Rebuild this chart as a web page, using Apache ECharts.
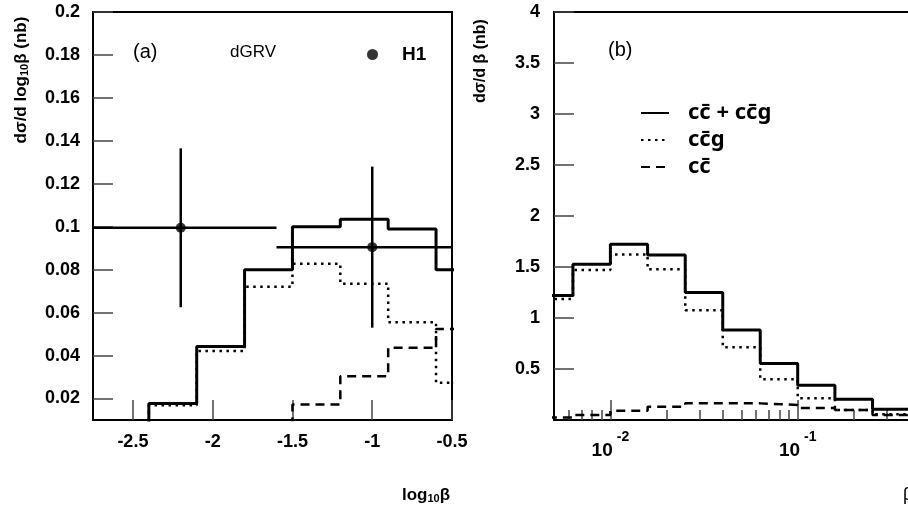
<!DOCTYPE html>
<html><head><meta charset="utf-8">
<script src="https://cdn.jsdelivr.net/npm/echarts@6/dist/echarts.min.js"></script>
<style>html,body{margin:0;padding:0;background:#fff}#c{width:908px;height:514px}</style>
</head><body><div id="c"></div>
<script>
// ---------- Panel (a): d sigma / d log10 beta ----------
const edgesA = [-2.4, -2.1, -1.8, -1.5, -1.2, -0.9, -0.6, -0.3];
const totalA = [0.0177, 0.0442, 0.080, 0.100, 0.1035, 0.099, 0.080];
const ccgA   = [0.0169, 0.0421, 0.072, 0.0828, 0.0735, 0.0555, 0.0273];
const ccA    = [null, null, null, 0.0172, 0.0304, 0.0437, 0.0524];
const h1X    = [-2.2, -1.0];
const h1Y    = [0.0995, 0.0905];
const h1XErr = [0.6, 0.6];
const h1YErr = [0.037, 0.0375];
const yTicksA = [0.02, 0.04, 0.06, 0.08, 0.1, 0.12, 0.14, 0.16, 0.18, 0.2];
const xTicksA = [-2.5, -2, -1.5, -1, -0.5];

// ---------- Panel (b): d sigma / d beta ----------
const edgesB = [0.00398, 0.00631, 0.01, 0.0158, 0.0251, 0.0398, 0.0631, 0.1, 0.158, 0.251, 0.398, 0.631, 1.0];
const totalB = [1.22, 1.526, 1.722, 1.618, 1.25, 0.882, 0.555, 0.34, 0.203, 0.105, 0.06, 0.03];
const ccgB   = [1.186, 1.47, 1.622, 1.477, 1.075, 0.713, 0.399, 0.213, 0.098, 0.056, 0.03, 0.015];
const ccB    = [0.025, 0.05, 0.09, 0.13, 0.163, 0.163, 0.147, 0.118, 0.098, 0.049, 0.03, 0.015];
const xMajorB = [0.01, 0.1];
const xMinorB = [0.006, 0.007, 0.008, 0.009, 0.02, 0.03, 0.04, 0.05, 0.06, 0.07, 0.08, 0.09,
                 0.2, 0.3, 0.4, 0.5, 0.6, 0.7, 0.8, 0.9];

const NAME_TOT = 'c\u0063\u0304 + c\u0063\u0304g';
const NAME_CCG = 'c\u0063\u0304g';
const NAME_CC  = 'c\u0063\u0304';

function steps(edges, vals) {
  const i0 = vals.findIndex(v => v != null);
  const pts = [[edges[i0], 0]];
  for (let i = i0; i < vals.length; i++) pts.push([edges[i], vals[i]]);
  pts.push([edges[vals.length], vals[vals.length - 1]]);
  return pts;
}

const FONT = 'Liberation Sans, Arial, Helvetica, sans-serif';
const lab = {fontFamily: FONT, fontWeight: 'bold', fontSize: 18, color: '#000'};
const tickStyle = {color: '#444', width: 1.5};
const solid = {color: '#000', width: 3, type: 'solid'};
const dotted = {color: '#000', width: 2.5, type: [2.5, 4.5], cap: 'butt'};
const dashed = {color: '#000', width: 2.5, type: [9, 6], cap: 'butt'};

function lineSeries(name, data, style, xi, yi) {
  return {name, type: 'line', step: 'end', data, symbol: 'none', showSymbol: false, xAxisIndex: xi, yAxisIndex: yi,
          lineStyle: style, itemStyle: {color: '#000'}, animation: false, clip: true};
}

const errData = h1X.map((x, i) => [x, h1Y[i], h1XErr[i], h1YErr[i]]);

const option = {
  animation: false,
  backgroundColor: '#fff',
  grid: [
    {left: 93, top: 12, width: 359, height: 408, show: true, borderColor: '#000', borderWidth: 2,
     containLabel: false, outerBoundsMode: 'none'},
    {left: 554, top: 12, width: 431, height: 408, show: true, borderColor: '#000', borderWidth: 2,
     containLabel: false, outerBoundsMode: 'none'}
  ],
  xAxis: [
    {type: 'value', gridIndex: 0, min: -2.75, max: -0.5,
     axisLine: {show: true, lineStyle: {color: '#000', width: 2}},
     axisTick: {show: true, inside: true, length: 20, lineStyle: tickStyle, customValues: xTicksA},
     axisLabel: Object.assign({margin: 13, customValues: xTicksA}, lab),
     splitLine: {show: false}},
    {type: 'log', gridIndex: 1, min: 0.005, max: 1, position: 'bottom',
     axisLine: {show: true, lineStyle: {color: '#000', width: 2}},
     axisTick: {show: true, inside: true, length: 20, lineStyle: tickStyle, customValues: xMajorB},
     axisLabel: {customValues: xMajorB, margin: 10,
       formatter: v => '{b|10}{s|' + Math.round(Math.log10(v)) + '}',
       rich: {
         b: {fontFamily: FONT, fontWeight: 'bold', fontSize: 19, color: '#000', lineHeight: 30, verticalAlign: 'bottom'},
         s: {fontFamily: FONT, fontWeight: 'bold', fontSize: 14, color: '#000', lineHeight: 30, verticalAlign: 'top', padding: [0, 0, 0, 4]}
       }},
     splitLine: {show: false}},
    {type: 'log', gridIndex: 1, min: 0.005, max: 1, position: 'bottom',
     axisLine: {show: false},
     axisTick: {show: true, inside: true, length: 10, lineStyle: tickStyle, customValues: xMinorB},
     axisLabel: {show: false},
     splitLine: {show: false}}
  ],
  yAxis: [
    {type: 'value', gridIndex: 0, min: 0.01, max: 0.2,
     axisLine: {show: true, lineStyle: {color: '#000', width: 2}},
     axisTick: {show: true, inside: true, length: 20, lineStyle: tickStyle, customValues: yTicksA},
     axisLabel: Object.assign({margin: 13, customValues: yTicksA}, lab),
     splitLine: {show: false}},
    {type: 'value', gridIndex: 1, min: 0, max: 4, interval: 0.5,
     axisLine: {show: true, lineStyle: {color: '#000', width: 2}},
     axisTick: {show: true, inside: true, length: 20, lineStyle: tickStyle},
     axisLabel: Object.assign({margin: 14, showMinLabel: false}, lab),
     splitLine: {show: false}}
  ],
  legend: [
    {data: ['H1'], left: 367, top: 45, padding: 0, icon: 'circle', itemWidth: 11, itemHeight: 11,
     selectedMode: false,
     textStyle: {fontFamily: FONT, fontWeight: 'bold', fontSize: 19, color: '#000', padding: [0, 0, 0, 19]}},
    {data: [NAME_TOT, NAME_CCG, NAME_CC], left: 640, top: 102, padding: 0, orient: 'vertical',
     itemWidth: 28, itemHeight: 14, itemGap: 5, selectedMode: false,
     itemStyle: {opacity: 0},
     textStyle: {fontFamily: 'Noto Sans, ' + FONT, fontWeight: 'bold', fontSize: 22, lineHeight: 22, color: '#000', padding: [0, 0, 0, 14]}}
  ],
  series: [
    lineSeries(NAME_CCG, steps(edgesA, ccgA), dotted, 0, 0),
    lineSeries(NAME_CC, steps(edgesA, ccA), dashed, 0, 0),
    lineSeries(NAME_TOT, steps(edgesA, totalA), solid, 0, 0),
    {name: 'H1', type: 'scatter', xAxisIndex: 0, yAxisIndex: 0, symbol: 'circle', symbolSize: 10,
     itemStyle: {color: '#000'}, data: h1X.map((x, i) => [x, h1Y[i]]), z: 5},
    {name: 'H1 errors', type: 'custom', xAxisIndex: 0, yAxisIndex: 0, data: errData, z: 4,
     encode: {x: 0, y: 1},
     renderItem: function (params, api) {
       const x = api.value(0), y = api.value(1), ex = api.value(2), ey = api.value(3);
       const cs = params.coordSys;
       const cx = v => Math.max(cs.x, Math.min(cs.x + cs.width, v));
       const cy = v => Math.max(cs.y, Math.min(cs.y + cs.height, v));
       const pL = api.coord([x - ex, y]), pR = api.coord([x + ex, y]);
       const pT = api.coord([x, y + ey]), pB = api.coord([x, y - ey]);
       const st = {stroke: '#000', lineWidth: 2.5};
       return {type: 'group', children: [
         {type: 'line', shape: {x1: cx(pL[0]), y1: pL[1], x2: cx(pR[0]), y2: pR[1]}, style: st},
         {type: 'line', shape: {x1: pT[0], y1: cy(pT[1]), x2: pB[0], y2: cy(pB[1])}, style: st}
       ]};
     }},
    lineSeries(NAME_CCG, steps(edgesB, ccgB), dotted, 1, 1),
    lineSeries(NAME_CC, steps(edgesB, ccB), dashed, 1, 1),
    lineSeries(NAME_TOT, steps(edgesB, totalB), solid, 1, 1)
  ],
  graphic: [
    {type: 'text', x: 133, y: 52, style: {text: '(a)', font: '20px ' + FONT, fill: '#000', verticalAlign: 'middle'}},
    {type: 'text', x: 230, y: 52, style: {text: 'dGRV', font: '17px ' + FONT, fill: '#000', verticalAlign: 'middle'}},
    {type: 'text', x: 608, y: 50, style: {text: '(b)', font: '20px ' + FONT, fill: '#000', verticalAlign: 'middle'}},
    {type: 'text', x: 21, y: 80, rotation: Math.PI / 2,
     style: {text: 'dσ/d log{sub|10}β (nb)', font: 'bold 17px ' + FONT, fill: '#000', align: 'center', verticalAlign: 'middle',
       rich: {sub: {font: 'bold 11px ' + FONT, fill: '#000', padding: [8, 0, 0, 0]}}}},
    {type: 'text', x: 481, y: 61, rotation: Math.PI / 2,
     style: {text: 'dσ/d β (nb)', font: 'bold 16px ' + FONT, fill: '#000', align: 'center', verticalAlign: 'middle'}},
    {type: 'text', x: 426, y: 495,
     style: {text: 'log{sub|10}β', font: 'bold 17px ' + FONT, fill: '#000', align: 'center', verticalAlign: 'middle',
       rich: {sub: {font: 'bold 11px ' + FONT, fill: '#000', padding: [8, 0, 0, 0]}}}},
    {type: 'text', x: 903, y: 495,
     style: {text: 'β', font: '18px ' + FONT, fill: '#000', align: 'left', verticalAlign: 'middle'}}
  ]
};

const chart = echarts.init(document.getElementById('c'), null, {renderer: 'canvas'});
chart.setOption(option);
</script>
</body></html>
